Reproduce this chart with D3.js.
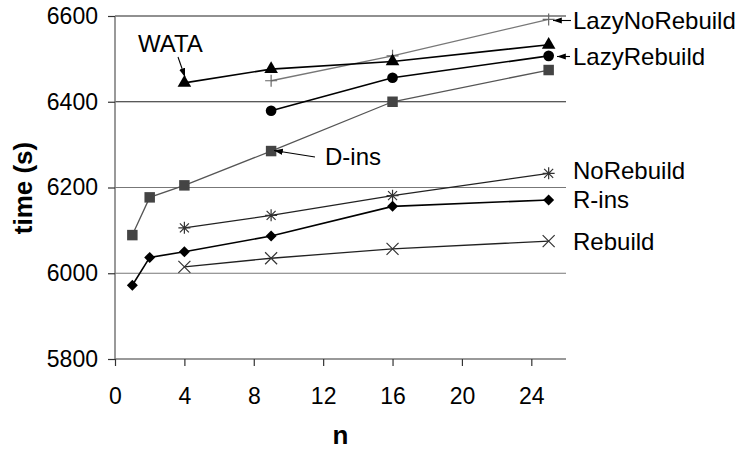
<!DOCTYPE html>
<meta charset="utf-8">
<style>
body { margin: 0; background: #fff; }
svg text { font-family: Arial, "Liberation Sans", sans-serif; fill: #000; }
.tick text { font-size: 23px; }
.lbl { font-size: 24px; }
.title { font-size: 26px; font-weight: bold; }
</style>
<svg width="752" height="450"></svg>
<script src="https://d3js.org/d3.v7.min.js"></script>
<script>
// data
var nWATA = [4, 9, 16, 25],        tWATA = [6444, 6476, 6494, 6533];
var nLazyNo = [9, 16, 25],         tLazyNo = [6449, 6507, 6592];
var nLazyRe = [9, 16, 25],         tLazyRe = [6379, 6456, 6507];
var nDins = [1, 2, 4, 9, 16, 25],  tDins = [6089, 6177, 6205, 6285, 6400, 6474];
var nNoRe = [4, 9, 16, 25],        tNoRe = [6106, 6135, 6181, 6233];
var nRins = [1, 2, 4, 9, 16, 25],  tRins = [5972, 6037, 6050, 6087, 6156, 6171];
var nRe = [4, 9, 16, 25],          tRe = [6015, 6035, 6057, 6075];
var yTicks = [5800, 6000, 6200, 6400, 6600];
var xTicks = [0, 4, 8, 12, 16, 20, 24];

var svg = d3.select("svg");
var plotL = 115, plotR = 566, plotT = 16, plotB = 359;
var x = d3.scaleLinear().domain([0, 26]).range([plotL, plotR]);
var y = d3.scaleLinear().domain([5800, 6600]).range([plotB, plotT]);

// gridlines (upper two dark, lower two grey like the original)
svg.append("g").selectAll("line")
  .data(yTicks.filter(d => d > 5800))
  .join("line")
    .attr("x1", plotL).attr("x2", plotR)
    .attr("y1", d => y(d)).attr("y2", d => y(d))
    .attr("stroke", d => d >= 6400 ? "#222" : "#777")
    .attr("stroke-width", 1.2);

// axes
var yAxis = svg.append("g").attr("transform", "translate(" + plotL + ",0)")
  .call(d3.axisLeft(y).tickValues(yTicks).tickSize(7).tickPadding(10).tickFormat(d3.format("d")));
var xAxis = svg.append("g").attr("transform", "translate(0," + plotB + ")")
  .call(d3.axisBottom(x).tickValues(xTicks).tickSize(7).tickPadding(22).tickFormat(d3.format("d")));
[yAxis, xAxis].forEach(a => {
  a.select(".domain").attr("stroke", "#777").attr("stroke-width", 1.5);
  a.selectAll(".tick line").attr("stroke", "#333").attr("stroke-width", 1.2);
  a.selectAll(".tick text").attr("font-family", null).attr("font-size", null);
});
xAxis.select(".domain").attr("d", "M" + plotL + ",0H" + plotR);
yAxis.select(".domain").attr("d", "M0," + plotB + "V" + plotT);

svg.append("text").attr("class", "title")
  .attr("transform", "translate(32,188) rotate(-90)")
  .attr("text-anchor", "middle").text("time (s)");
svg.append("text").attr("class", "title")
  .attr("x", x(13)).attr("y", 444).attr("text-anchor", "middle").text("n");

// marker shapes
var star = "M-6,0H6M0,-6V6M-4.5,-4.5L4.5,4.5M-4.5,4.5L4.5,-4.5";
var cross = "M-6,-6L6,6M-6,6L6,-6";
var plus = "M-6,0H6M0,-6V6";
var diamond = "M0,-5.5L5.5,0L0,5.5L-5.5,0Z";
var series = [
  {ns: nLazyNo, ts: tLazyNo, line: "#777", w: 1.3, mk: plus, mkStroke: "#666"},
  {ns: nDins,   ts: tDins,   line: "#555", w: 1.3, mk: d3.symbol(d3.symbolSquare, 110)(), mkFill: "#444"},
  {ns: nWATA,   ts: tWATA,   line: "#000", w: 1.6, mk: d3.symbol(d3.symbolTriangle, 80)(), mkFill: "#000"},
  {ns: nLazyRe, ts: tLazyRe, line: "#000", w: 1.6, mk: d3.symbol(d3.symbolCircle, 90)(), mkFill: "#000"},
  {ns: nNoRe,   ts: tNoRe,   line: "#222", w: 1.3, mk: star, mkStroke: "#333"},
  {ns: nRins,   ts: tRins,   line: "#000", w: 1.6, mk: diamond, mkFill: "#000"},
  {ns: nRe,     ts: tRe,     line: "#222", w: 1.3, mk: cross, mkStroke: "#333"}
];
var line = d3.line().x(d => x(d[0])).y(d => y(d[1]));
series.forEach(s => {
  var pts = s.ns.map((n, i) => [n, s.ts[i]]);
  svg.append("path").attr("d", line(pts))
    .attr("fill", "none").attr("stroke", s.line).attr("stroke-width", s.w);
  svg.append("g").selectAll("path").data(pts).join("path")
    .attr("transform", d => "translate(" + x(d[0]) + "," + y(d[1]) + ")")
    .attr("d", s.mk)
    .attr("fill", s.mkFill || "none")
    .attr("stroke", s.mkStroke || "none")
    .attr("stroke-width", 1.2);
});

// labels and arrows
svg.append("defs").append("marker")
  .attr("id", "ah").attr("viewBox", "0 0 10 10").attr("refX", 10).attr("refY", 5)
  .attr("markerWidth", 8).attr("markerHeight", 8).attr("orient", "auto")
  .append("path").attr("d", "M0,1.5L10,5L0,8.5Z").attr("fill", "#000");
var labels = [
  {t: "LazyNoRebuild", x: 573, y: 29},
  {t: "LazyRebuild", x: 573, y: 65},
  {t: "NoRebuild", x: 573, y: 179},
  {t: "R-ins", x: 573, y: 208},
  {t: "Rebuild", x: 573, y: 250},
  {t: "WATA", x: 138, y: 52},
  {t: "D-ins", x: 325, y: 165}
];
svg.append("g").selectAll("text").data(labels).join("text")
  .attr("class", "lbl").attr("x", d => d.x).attr("y", d => d.y).text(d => d.t);
var arrows = [
  [571, 20.5, 553, 20.5],
  [570, 56.5, 557, 56.5],
  [178, 57, 185, 77],
  [315, 157, 274, 150.5]
];
svg.append("g").selectAll("line").data(arrows).join("line")
  .attr("x1", d => d[0]).attr("y1", d => d[1]).attr("x2", d => d[2]).attr("y2", d => d[3])
  .attr("stroke", "#000").attr("stroke-width", 1.1).attr("marker-end", "url(#ah)");
</script>
